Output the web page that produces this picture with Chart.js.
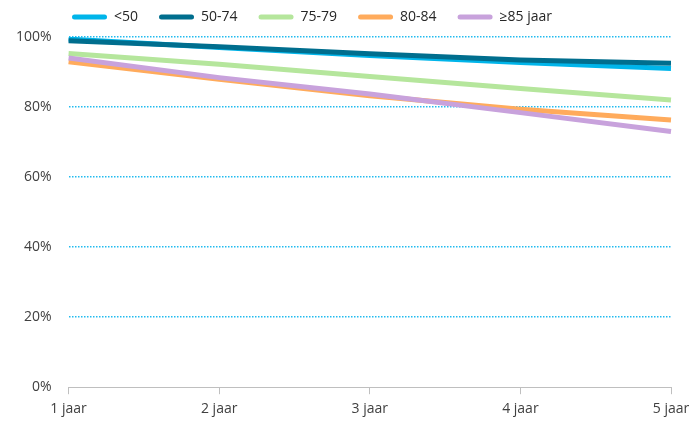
<!DOCTYPE html>
<html>
<head>
<meta charset="utf-8">
<script src="https://cdn.jsdelivr.net/npm/chart.js@4"></script>
<style>
  html, body { margin: 0; padding: 0; background: #fff; }
  #wrap { width: 693px; height: 421px; }
</style>
</head>
<body>
<div id="wrap"><canvas id="graficoOverleving"></canvas></div>
<script>
// categorieen en waarden (percentage)
const jaren = ['1 jaar', '2 jaar', '3 jaar', '4 jaar', '5 jaar']
const onder50 = [99.4, 97.0, 94.7, 92.7, 91.0]
const van50tot74 = [98.9, 97.2, 95.2, 93.4, 92.5]
const van75tot79 = [95.3, 92.2, 88.7, 85.3, 82.0]
const van80tot84 = [92.9, 87.9, 83.2, 79.4, 76.3]
const vanaf85 = [94.0, 88.4, 83.7, 78.4, 73.0]
const yTicks = [0, 20, 40, 60, 80, 100]

const reeksen = [
  { label: '<50', data: onder50, kleur: '#00b5ea' },
  { label: '50-74', data: van50tot74, kleur: '#006e8e' },
  { label: '75-79', data: van75tot79, kleur: '#b5e69c' },
  { label: '80-84', data: van80tot84, kleur: '#ffab5c' },
  { label: '≥85 jaar', data: vanaf85, kleur: '#c8a2dc' },
]

Chart.defaults.font.family = '"Open Sans", sans-serif'
Chart.defaults.font.size = 14
Chart.defaults.color = '#404040'

// legenda naar rechts schuiven en wat ruimte onder de legenda
const legendaVerschuiven = {
  id: 'legendaVerschuiven',
  beforeLayout(chart) {
    const lg = chart.legend
    if (lg && !lg._aangepast) {
      const origFit = lg.fit
      lg.fit = function () {
        origFit.call(this)
        this.height += 3
      }
      lg._aangepast = true
    }
  },
  afterLayout(chart) {
    chart.legend.left = 51
  }
}

new Chart(document.getElementById('graficoOverleving'), {
  type: 'line',
  data: {
    labels: jaren,
    datasets: reeksen.map((r, i) => ({
      label: r.label,
      data: r.data,
      borderColor: r.kleur,
      backgroundColor: r.kleur,
      borderWidth: 5,
      pointRadius: 0,
      tension: 0,
      order: 5 - i,
    })),
  },
  options: {
    responsive: true,
    maintainAspectRatio: false,
    animation: false,
    layout: { padding: { left: -1, right: 0, top: -11, bottom: -2 } },
    plugins: {
      tooltip: { enabled: false },
      legend: {
        position: 'top',
        align: 'start',
        labels: {
          boxWidth: 35,
          boxHeight: 5,
          useBorderRadius: true,
          borderRadius: 2.5,
          padding: 21,
          sort: (a, b) => a.datasetIndex - b.datasetIndex,
          generateLabels: (chart) =>
            Chart.defaults.plugins.legend.labels.generateLabels(chart).map(l => ({ ...l, lineWidth: 0 })),
          font: { size: 14 },
          color: '#262626',
        },
      },
    },
    scales: {
      x: {
        offset: false,
        afterFit: (s) => { s.paddingRight = 22 },
        grid: {
          drawOnChartArea: false,
          drawTicks: true,
          tickLength: 7,
          tickColor: '#bfbfbf',
        },
        border: { color: '#bfbfbf', width: 1 },
        ticks: { padding: 6, maxRotation: 0, font: { size: 14 } },
      },
      y: {
        min: 0,
        max: 100,
        afterBuildTicks: (axis) => {
          axis.ticks = yTicks.map(v => ({ value: v }))
        },
        grid: {
          drawTicks: false,
          color: (ctx) => ctx.tick && ctx.tick.value === 0 ? 'rgba(0,0,0,0)' : '#22bbf0',
          lineWidth: 1.5,
        },
        border: { display: false, dash: [1.5, 1.5] },
        ticks: {
          padding: 17,
          callback: (v) => v + '%',
          font: { size: 14 },
        },
      },
    },
  },
  plugins: [legendaVerschuiven],
})
</script>
</body>
</html>
